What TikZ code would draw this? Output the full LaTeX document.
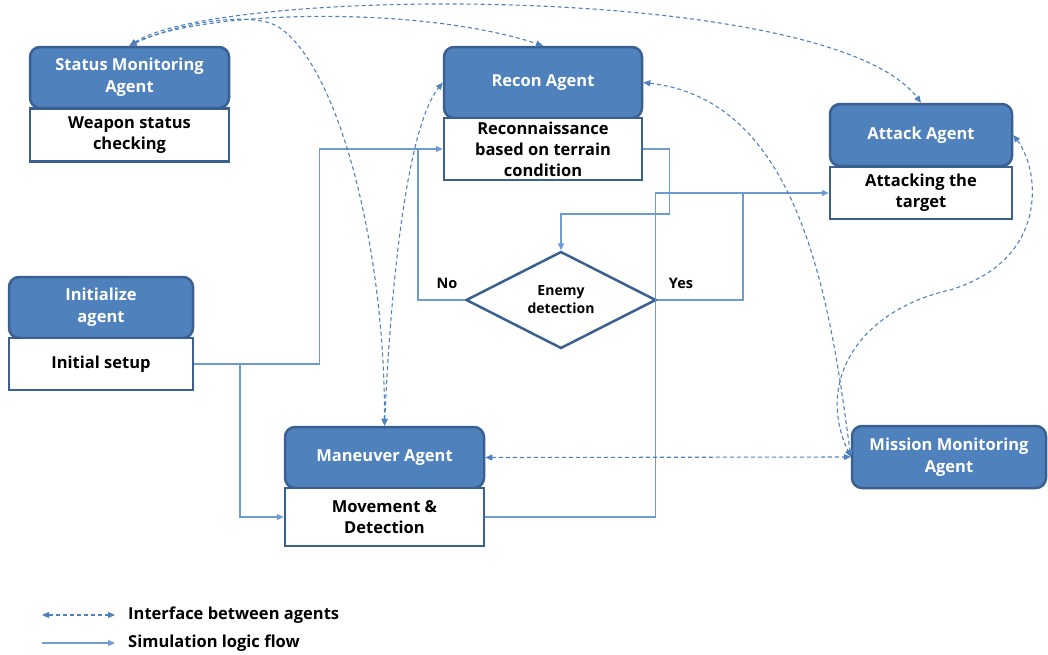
\documentclass[tikz,border=0pt]{standalone}
\usepackage{fontspec}
\setmainfont{Open Sans}
\usetikzlibrary{arrows.meta,shapes.geometric,calc}
\definecolor{agentfill}{HTML}{4F81BD}
\definecolor{agentedge}{HTML}{3A6091}
\definecolor{flowline}{HTML}{6F9BD3}
\definecolor{linkline}{HTML}{4F81BD}
\begin{document}
\begin{tikzpicture}[x=1pt,y=-1pt,
  agent/.style={draw=agentedge, line width=2.5pt, fill=agentfill, rounded corners=10pt,
    text=white, font=\fontsize{16.5}{22}\selectfont\bfseries, align=center, inner sep=0pt},
  task/.style={draw=agentedge, line width=2.5pt, fill=white, text=black,
    font=\fontsize{16.5}{21}\selectfont\bfseries, align=center, inner sep=0pt},
  decision/.style={draw=agentedge, line width=2.5pt, fill=white, shape=diamond,
    shape aspect=1.95, inner sep=0pt, font=\fontsize{14}{18}\selectfont\bfseries, align=center},
  lbl/.style={font=\fontsize{14.5}{17}\selectfont\bfseries, inner sep=0pt},
  legendtext/.style={font=\fontsize{16.5}{19}\selectfont\bfseries, inner sep=0pt, anchor=west},
  flow/.style={draw=flowline, line width=1.2pt, -{Triangle[length=7pt,width=6pt]}},
  flowjoin/.style={draw=flowline, line width=1.2pt},
  link/.style={draw=linkline, line width=1.1pt, dash pattern=on 4pt off 3pt,
    {Triangle[length=7pt,width=6pt]}-{Triangle[length=7pt,width=6pt]}},
]
\useasboundingbox (0,0) rectangle (1048,654);

% agents (title box on top, task box below)
\node[agent, minimum width=199pt, minimum height=61pt] (statusb) at (129.5,77.5) {Status Monitoring\\Agent};
\node[task, minimum width=199pt, minimum height=53pt] (statusw) at (129.5,135) {Weapon status\\checking};

\node[agent, minimum width=198pt, minimum height=71pt] (reconb) at (543,82.5) {Recon Agent};
\node[task, minimum width=198pt, minimum height=62pt] (reconw) at (543,149) {Reconnaissance\\based on terrain\\condition};

\node[agent, minimum width=182pt, minimum height=62pt] (attackb) at (921,135) {Attack Agent};
\node[task, minimum width=182pt, minimum height=52pt] (attackw) at (921,193) {Attacking the\\target};

\node[agent, minimum width=184pt, minimum height=61pt] (initb) at (101,307.5) {Initialize\\agent};
\node[task, minimum width=184pt, minimum height=52pt] (initw) at (101,364) {Initial setup};

\node[agent, minimum width=199pt, minimum height=61pt] (manb) at (384.5,457.5) {Maneuver Agent};
\node[task, minimum width=199pt, minimum height=58pt] (manw) at (384.5,517) {Movement \&\\Detection};

\node[agent, minimum width=194pt, minimum height=62pt] (missb) at (949,457) {Mission Monitoring\\Agent};

\node[decision, minimum width=190pt, minimum height=97pt] (diam) at (561,300) {Enemy\\detection};

% branch labels
\node[lbl] (nolbl) at (447,283) {No};
\node[lbl] (yeslbl) at (681,283) {Yes};

% simulation logic flow
\coordinate (jsplit) at (240,364);
\coordinate (jno) at (418,149);
\coordinate (jyes) at (743,194);
\draw[flow] (initw.east) -- ++(125,0) |- (reconw.west);
\draw[flow] (jsplit) |- (manw.west);
\draw[flow] (reconw.east) -- ++(26,0) -- ++(0,65) -| (diam.north);
\draw[flowjoin] (diam.west) -| (jno);
\draw[flowjoin] (diam.east) -| (jyes);
\draw[flow] (manw.east) -| ($(attackw.west)+(-173,0)$) -- (attackw.west);

% interfaces between agents
\draw[link] (statusb.north) .. controls (200,10) and (420,5) .. (reconb.north);
\draw[link] (statusb.north) .. controls (220,-14) and (830,-18) .. (attackb.north);
\draw[link] (statusb.north) .. controls (180,22) and (255,10) .. (280,28)
  .. controls (340,70) and (385,250) .. (manb.north);
\draw[link] (manb.north) .. controls (390,300) and (405,130) .. (reconb.west);
\draw[link] (reconb.east) .. controls (800,100) and (830,300) .. (missb.west);
\draw[link] (attackb.east) .. controls (1040,170) and (1050,260) .. (950,290)
  .. controls (860,310) and (815,380) .. (missb.west);
\draw[link] (manb.east) -- (missb.west);

% legend
\coordinate (lda) at (42,615);
\coordinate (ldb) at (115,615);
\coordinate (lfa) at (42,643);
\coordinate (lfb) at (115,643);
\draw[link] (lda) -- (ldb);
\draw[flow] (lfa) -- (lfb);
\node[legendtext] (ldtext) at (128,615) {Interface between agents};
\node[legendtext] (lftext) at (128,643) {Simulation logic flow};
\end{tikzpicture}
\end{document}
